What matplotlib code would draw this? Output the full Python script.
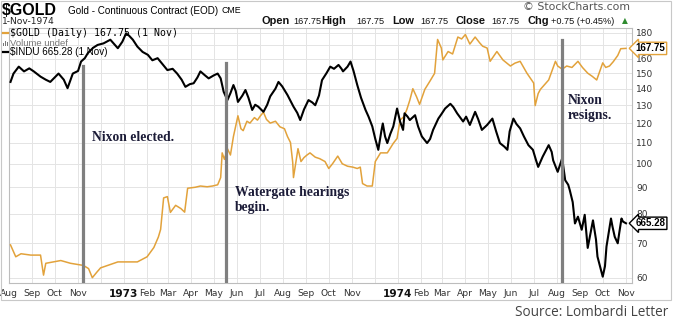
import pandas as pd
import matplotlib.pyplot as plt
from matplotlib.lines import Line2D
from matplotlib.patches import Rectangle
from matplotlib.ticker import NullLocator, NullFormatter, FixedLocator, FixedFormatter

# Gold daily close
gold_dates = [
    "1972-08-03", "1972-08-10", "1972-08-17", "1972-08-30", "1972-09-12", "1972-09-16",
    "1972-09-19", "1972-10-09", "1972-10-22", "1972-11-08", "1972-11-15", "1972-11-20",
    "1972-11-26", "1972-12-01", "1972-12-12", "1972-12-24", "1973-01-06", "1973-01-19",
    "1973-02-01", "1973-02-10", "1973-02-16", "1973-02-19", "1973-02-23", "1973-02-28",
    "1973-03-04", "1973-03-11", "1973-03-18", "1973-03-23", "1973-03-27", "1973-04-06",
    "1973-04-13", "1973-04-22", "1973-04-29", "1973-05-06", "1973-05-10", "1973-05-12",
    "1973-05-15", "1973-05-19", "1973-05-23", "1973-05-27", "1973-06-02", "1973-06-06",
    "1973-06-09", "1973-06-14", "1973-06-18", "1973-06-24", "1973-06-28", "1973-07-02",
    "1973-07-06", "1973-07-10", "1973-07-15", "1973-07-22", "1973-07-28", "1973-08-03",
    "1973-08-07", "1973-08-11", "1973-08-14", "1973-08-15", "1973-08-21", "1973-08-25",
    "1973-08-29", "1973-09-02", "1973-09-06", "1973-09-13", "1973-09-19", "1973-09-26",
    "1973-10-01", "1973-10-06", "1973-10-13", "1973-10-19", "1973-10-26", "1973-11-02",
    "1973-11-08", "1973-11-12", "1973-11-15", "1973-11-21", "1973-11-28", "1973-12-02",
    "1973-12-09", "1973-12-18", "1973-12-26", "1973-12-31", "1974-01-04", "1974-01-09",
    "1974-01-13", "1974-01-17", "1974-01-21", "1974-01-26", "1974-01-30", "1974-02-06",
    "1974-02-13", "1974-02-19", "1974-02-23", "1974-02-28", "1974-03-02", "1974-03-09",
    "1974-03-15", "1974-03-22", "1974-03-27", "1974-04-01", "1974-04-07", "1974-04-14",
    "1974-04-20", "1974-04-24", "1974-04-30", "1974-05-04", "1974-05-13", "1974-05-21",
    "1974-05-31", "1974-06-06", "1974-06-13", "1974-06-22", "1974-07-01", "1974-07-03",
    "1974-07-07", "1974-07-10", "1974-07-21", "1974-07-30", "1974-08-02", "1974-08-08",
    "1974-08-14", "1974-08-21", "1974-08-29", "1974-09-04", "1974-09-11", "1974-09-17",
    "1974-09-23", "1974-10-01", "1974-10-05", "1974-10-10", "1974-10-15", "1974-10-21",
    "1974-10-25", "1974-11-01",
]
gold_close = [
    69.5, 65.9, 66.8, 66.4, 66.4, 60.7,
    64.0, 64.8, 64.0, 63.4, 62.5, 60.0,
    61.5, 62.7, 63.5, 64.4, 64.4, 64.4,
    65.9, 68.7, 72.0, 74.5, 85.8, 86.3,
    80.4, 83.0, 81.8, 80.5, 89.6, 90.0,
    90.5, 90.2, 90.5, 91.0, 94.0, 105.0,
    102.0, 107.0, 104.0, 113.0, 124.0, 117.0,
    116.0, 121.0, 120.0, 123.0, 121.6, 124.0,
    126.0, 122.0, 120.0, 121.0, 118.0, 117.0,
    113.0, 110.0, 100.6, 94.0, 107.0, 101.0,
    102.8, 104.0, 105.0, 103.0, 102.3, 101.0,
    97.9, 100.0, 103.5, 100.0, 98.9, 98.5,
    97.9, 98.5, 91.5, 90.5, 90.5, 101.0,
    105.0, 105.0, 109.6, 112.0, 121.6, 123.5,
    127.5, 133.0, 140.0, 135.0, 130.5, 139.6,
    145.0, 150.0, 174.6, 168.0, 159.3, 165.4,
    163.6, 176.5, 175.0, 178.5, 171.0, 176.5,
    172.0, 169.4, 168.0, 158.3, 165.4, 159.3,
    155.0, 157.0, 158.3, 150.1, 143.6, 129.8,
    137.0, 139.6, 145.6, 158.3, 155.0, 152.8,
    155.0, 154.0, 158.3, 154.0, 150.1, 148.0,
    145.6, 157.2, 154.0, 155.0, 158.0, 162.5,
    167.5, 167.75,
]

# Dow Jones Industrials overlay (own hidden scale)
indu_dates = [
    "1972-08-03", "1972-08-07", "1972-08-14", "1972-08-21", "1972-08-28", "1972-09-03",
    "1972-09-12", "1972-09-19", "1972-09-25", "1972-10-06", "1972-10-13", "1972-10-18",
    "1972-10-25", "1972-11-01", "1972-11-05", "1972-11-10", "1972-11-14", "1972-11-21",
    "1972-11-27", "1972-12-05", "1972-12-14", "1972-12-24", "1972-12-30", "1973-01-04",
    "1973-01-08", "1973-01-13", "1973-01-19", "1973-01-26", "1973-02-02", "1973-02-08",
    "1973-02-15", "1973-02-22", "1973-02-28", "1973-03-07", "1973-03-13", "1973-03-19",
    "1973-03-24", "1973-03-30", "1973-04-04", "1973-04-09", "1973-04-13", "1973-04-19",
    "1973-04-24", "1973-05-01", "1973-05-06", "1973-05-10", "1973-05-14", "1973-05-19",
    "1973-05-23", "1973-05-27", "1973-05-30", "1973-06-02", "1973-06-08", "1973-06-12",
    "1973-06-16", "1973-06-21", "1973-06-25", "1973-06-29", "1973-07-06", "1973-07-11",
    "1973-07-15", "1973-07-22", "1973-07-26", "1973-07-31", "1973-08-07", "1973-08-15",
    "1973-08-20", "1973-08-24", "1973-08-29", "1973-09-04", "1973-09-09", "1973-09-13",
    "1973-09-18", "1973-09-22", "1973-09-28", "1973-10-03", "1973-10-08", "1973-10-14",
    "1973-10-18", "1973-10-20", "1973-10-26", "1973-10-30", "1973-11-03", "1973-11-08",
    "1973-11-13", "1973-11-19", "1973-11-23", "1973-11-28", "1973-12-02", "1973-12-06",
    "1973-12-10", "1973-12-12", "1973-12-15", "1973-12-18", "1973-12-22", "1973-12-26",
    "1973-12-31", "1974-01-04", "1974-01-08", "1974-01-10", "1974-01-14", "1974-01-17",
    "1974-01-24", "1974-01-28", "1974-02-02", "1974-02-09", "1974-02-13", "1974-02-17",
    "1974-02-24", "1974-02-28", "1974-03-05", "1974-03-12", "1974-03-16", "1974-03-21",
    "1974-03-29", "1974-04-02", "1974-04-07", "1974-04-14", "1974-04-18", "1974-04-23",
    "1974-04-30", "1974-05-07", "1974-05-12", "1974-05-17", "1974-05-23", "1974-05-27",
    "1974-05-30", "1974-06-04", "1974-06-08", "1974-06-13", "1974-06-18", "1974-06-24",
    "1974-06-30", "1974-07-04", "1974-07-07", "1974-07-13", "1974-07-21", "1974-07-25",
    "1974-07-27", "1974-08-02", "1974-08-06", "1974-08-08", "1974-08-12", "1974-08-16",
    "1974-08-18", "1974-08-22", "1974-08-25", "1974-08-29", "1974-09-03", "1974-09-07",
    "1974-09-11", "1974-09-14", "1974-09-18", "1974-09-22", "1974-09-24", "1974-10-01",
    "1974-10-04", "1974-10-06", "1974-10-12", "1974-10-14", "1974-10-17", "1974-10-21",
    "1974-10-23", "1974-10-26", "1974-10-28", "1974-11-01",
]
indu_close = [
    935, 954, 970, 959, 966, 959,
    947, 940, 935, 954, 940, 921,
    954, 960, 982, 990, 1002, 1015,
    1022, 1026, 1035, 1014, 1030, 1051,
    1045, 1035, 1018, 1005, 998, 985,
    990, 975, 962, 965, 954, 940,
    924, 930, 932, 945, 959, 950,
    943, 950, 954, 943, 913, 895,
    910, 928, 915, 891, 905, 917,
    900, 874, 885, 881, 870, 885,
    903, 920, 935, 925, 906, 881,
    868, 853, 875, 895, 890, 884,
    905, 939, 955, 970, 965, 974,
    965, 959, 970, 982, 960, 928,
    900, 874, 860, 840, 815, 794,
    830, 846, 820, 807, 825, 840,
    877, 850, 833, 867, 860, 853,
    863, 840, 820, 807, 815, 833,
    856, 865, 877, 887, 880, 867,
    850, 860, 843, 870, 855, 833,
    843, 856, 830, 807, 800, 794,
    830, 856, 845, 836, 820, 803,
    794, 775, 762, 781, 803, 790,
    774, 753, 770, 778, 738, 730,
    721, 700, 665, 676, 655, 679,
    627, 645, 670, 640, 614, 585,
    600, 629, 673, 660, 644, 634,
    650, 673, 668, 665.28,
]

event_dates = ["1972-11-07", "1973-05-17", "1974-08-08"]
event_labels = ["Nixon elected.", "Watergate hearings\nbegin.", "Nixon\nresigns."]

gold_ticks = [60, 70, 80, 90, 100, 110, 120, 130, 140, 150, 160, 170, 180]
# 170 sits under the last-price tag, so its label is left blank
gold_tick_labels = ["60", "70", "80", "90", "100", "110", "120", "130", "140", "150", "160", "", "180"]
month_starts = pd.date_range("1972-08-01", "1974-11-01", freq="MS")
month_labels = ["Aug", "Sep", "Oct", "Nov", "", "1973", "Feb", "Mar", "Apr", "May",
                "Jun", "Jul", "Aug", "Sep", "Oct", "Nov", "", "1974", "Feb", "Mar",
                "Apr", "May", "Jun", "Jul", "Aug", "Sep", "Oct", "Nov"]

GOLD_C = "#E2A23B"
TXT_C = "#1c1c38"
W, H = 675, 322


def fx(px):
    return px / W


def fy(py):
    return 1 - py / H


fig = plt.figure(figsize=(6.75, 3.22), dpi=100)
fig.patch.set_facecolor("white")

# outer chart frame
fig.add_artist(Rectangle((fx(1), fy(300)), fx(671) - fx(1), fy(1) - fy(300),
                         transform=fig.transFigure, fill=False, edgecolor="#c8c8c8", lw=0.8))

ax = fig.add_axes([fx(9), fy(283), fx(632) - fx(9), fy(28) - fy(283)])
g_dates = pd.to_datetime(gold_dates)
i_dates = pd.to_datetime(indu_dates)

ax.set_yscale("log")
ax.set_ylim(58.59, 183.8)
ax.set_xlim(pd.Timestamp("1972-08-02"), pd.Timestamp("1974-11-09"))
ax.plot(g_dates, gold_close, color=GOLD_C, lw=1.1, zorder=3)

ax2 = ax.twinx()
ax2.set_yscale("log")
ax2.set_ylim(576.2, 1064.6)
ax2.yaxis.set_major_locator(NullLocator())
ax2.yaxis.set_minor_locator(NullLocator())
ax2.yaxis.set_major_formatter(NullFormatter())
ax2.yaxis.set_minor_formatter(NullFormatter())
ax2.tick_params(which="both", right=False, labelright=False)
for s in ax2.spines.values():
    s.set_visible(False)
ax2.plot(i_dates, indu_close, color="black", lw=1.5, zorder=3)

# gold price scale on the right (after twinx, which moves it left)
ax.yaxis.tick_right()
ax.yaxis.set_major_locator(FixedLocator(gold_ticks))
ax.yaxis.set_major_formatter(FixedFormatter(gold_tick_labels))
ax.yaxis.set_minor_locator(NullLocator())
ax.yaxis.set_minor_formatter(NullFormatter())
ax.tick_params(axis="y", which="both", left=False, labelleft=False, right=False,
               labelright=True, length=0, pad=3, labelsize=6.5, labelcolor="#333333")
ax.set_xticks(month_starts)
ax.set_xticklabels(month_labels)
ax.tick_params(axis="x", length=0, pad=4, labelsize=6.6, labelcolor="#333333")
for lab in ax.get_xticklabels():
    if lab.get_text().startswith("197"):
        lab.set_fontweight("bold")
        lab.set_fontsize(7.6)
        lab.set_color("#111111")
ax.grid(True, color="#e4e4e4", lw=0.7)
for s in ax.spines.values():
    s.set_color("#bdbdbd")
    s.set_linewidth(0.8)

# event markers
tops = [0.851, 0.863, 0.953]
for d, t in zip(event_dates, tops):
    ax2.axvline(pd.Timestamp(d), ymin=0, ymax=t, color="#7f7f7f", lw=2.3, zorder=4)

txt_kw = dict(transform=ax.transAxes, fontsize=9.8, fontweight="bold",
              family="Liberation Serif", color=TXT_C, va="center", ha="left", linespacing=1.25)
ax2.text(0.133, 0.569, event_labels[0], **txt_kw)
ax2.text(0.363, 0.325, event_labels[1], **txt_kw)
ax2.text(0.897, 0.686, event_labels[2], **txt_kw)

# last-value tags on right
tag_kw = dict(fontsize=7, fontweight="bold", family="Liberation Sans", va="center", ha="left",
              zorder=10, clip_on=False)
ax.text(1.006, gold_close[-1], f"{gold_close[-1]:.2f}", transform=ax.get_yaxis_transform(),
        bbox=dict(boxstyle="larrow,pad=0.12", fc="white", ec=GOLD_C, lw=1), **tag_kw)
ax2.text(1.006, indu_close[-1], f"{indu_close[-1]:.2f}", transform=ax2.get_yaxis_transform(),
         bbox=dict(boxstyle="larrow,pad=0.12", fc="white", ec="black", lw=1), **tag_kw)

# header
fig.text(fx(2), fy(10.5), "$GOLD", fontsize=11.5, fontweight="bold", family="Liberation Sans", va="center")
fig.text(fx(68), fy(10.5), "Gold - Continuous Contract (EOD)", fontsize=7.1, family="Liberation Sans", va="center")
fig.text(fx(222), fy(10.5), "CME", fontsize=6.3, family="Liberation Sans", va="center")
fig.text(fx(2), fy(21.5), "1-Nov-1974", fontsize=6.6, va="center", color="#222222")
fig.text(fx(630), fy(7.5), "\u00a9 StockCharts.com", fontsize=7.8, ha="right", va="center", color="#555555")

hdr = [(262, "Open", True), (293, "167.75", False), (321, "High", True), (356, "167.75", False),
       (392, "Low", True), (420, "167.75", False), (455, "Close", True), (491, "167.75", False),
       (527, "Chg", True), (551, "+0.75 (+0.45%)", False)]
for x, s, b in hdr:
    fig.text(fx(x), fy(21), s, fontsize=7.9 if b else 6.6, fontweight="bold" if b else "normal",
             family="Liberation Sans", va="center", color="#111111")
fig.text(fx(622), fy(20.5), "\u25b2", fontsize=5.5, color="#2e8b2e", va="center")

# legend
fig.add_artist(Line2D([fx(3), fx(8)], [fy(33), fy(33)], color=GOLD_C, lw=1.6, transform=fig.transFigure))
fig.text(fx(10), fy(33), "$GOLD (Daily) 167.75 (1 Nov)", fontsize=7.1, family="DejaVu Sans Mono", va="center")
for i, h in enumerate([3, 5, 4]):
    fig.add_artist(Rectangle((fx(3 + 2 * i), fy(46)), fx(1.3), h / H, transform=fig.transFigure,
                             color="#777777", lw=0))
fig.text(fx(10), fy(43), "Volume undef", fontsize=6.8, family="Liberation Sans", va="center", color="#777777")
fig.add_artist(Line2D([fx(3), fx(8)], [fy(52), fy(52)], color="black", lw=1.6, transform=fig.transFigure))
fig.text(fx(10), fy(52), "$INDU 665.28 (1 Nov)", fontsize=7.1, family="Liberation Sans", va="center")

fig.text(fx(668), fy(312), "Source: Lombardi Letter", fontsize=9.8, family="Open Sans",
         ha="right", va="center", color="#444444")

fig.savefig("out.png", dpi=100)
